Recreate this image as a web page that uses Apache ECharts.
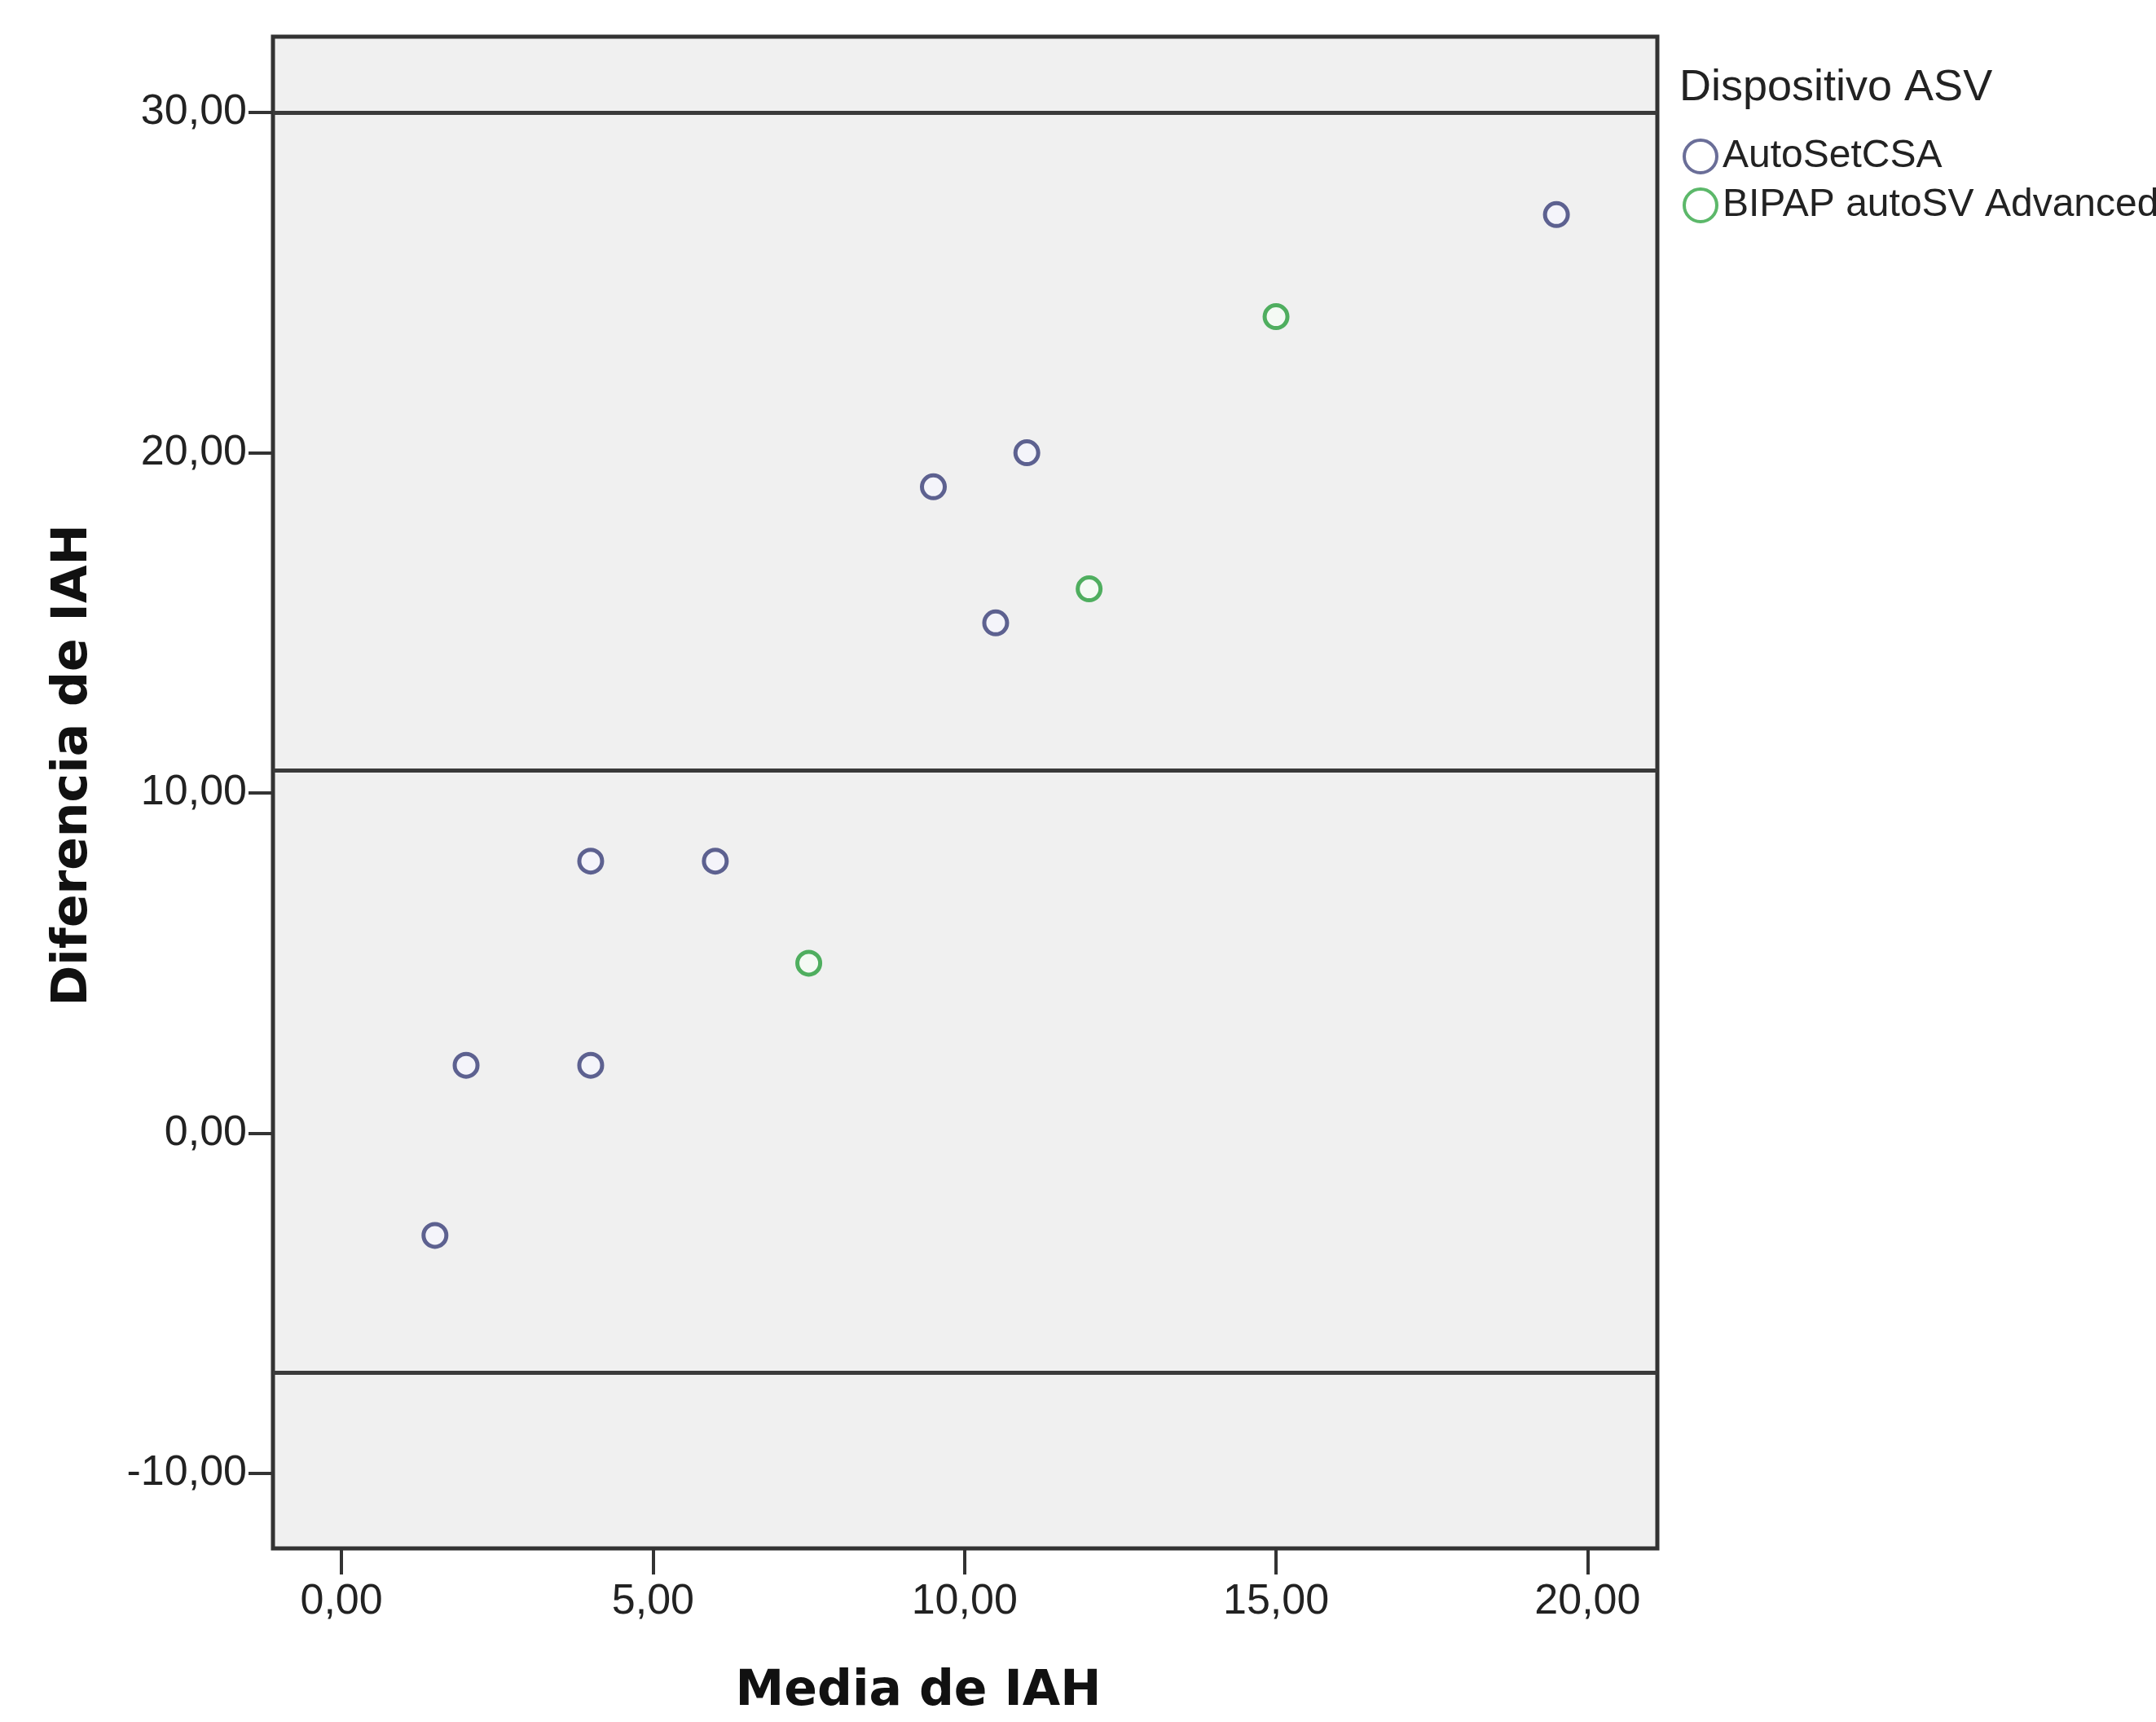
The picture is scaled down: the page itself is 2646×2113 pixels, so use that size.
<!DOCTYPE html>
<html>
<head>
<meta charset="utf-8">
<script src="https://cdn.jsdelivr.net/npm/echarts@6/dist/echarts.min.js"></script>
<style>
  html, body { margin: 0; padding: 0; background: #fff; }
  #chart { width: 2646px; height: 2113px; }
</style>
</head>
<body>
<div id="chart"></div>
<script>
// Bland-Altman: media vs diferencia de IAH
const autoSetMedia = [19.5, 11, 9.5, 10.5, 4, 6, 2, 4, 1.5];
const autoSetDif   = [27, 20, 19, 15, 8, 8, 2, 2, -3];
const bipapMedia   = [15, 12, 7.5];
const bipapDif     = [24, 16, 5];
const refLines     = [30, 10.66, -7.04];   // limites de acuerdo + media
const xTicks       = [0, 5, 10, 15, 20];
const yTicks       = [-10, 0, 10, 20, 30];
const seriesNames  = ['AutoSetCSA', 'BIPAP autoSV Advanced'];

const tickFont = "'Liberation Sans', Arial, sans-serif";
const fmt = v => v.toFixed(2).replace('.', ',');
const pairs = (xs, ys) => xs.map((x, i) => [x, ys[i]]);

const chart = echarts.init(document.getElementById('chart'));
chart.setOption({
    backgroundColor: '#ffffff',
    animation: false,
    title: {
        text: 'Dispositivo ASV',
        left: 2056,
        top: 76,
        textStyle: { fontFamily: tickFont, fontSize: 54, fontWeight: 'normal', color: '#222' }
    },
    legend: {
        orient: 'vertical',
        left: 2060,
        top: 162,
        itemWidth: 40,
        itemHeight: 40,
        itemGap: 10,
        icon: 'circle',
        data: [
            { name: seriesNames[0], itemStyle: { color: '#ffffff', borderColor: '#6a6e98', borderWidth: 4 } },
            { name: seriesNames[1], itemStyle: { color: '#ffffff', borderColor: '#5cb86a', borderWidth: 4 } }
        ],
        textStyle: { fontFamily: tickFont, fontSize: 48, color: '#222', lineHeight: 50, padding: [0, 0, 0, 2] }
    },
    grid: {
        left: 335,
        right: 612,
        top: 45,
        bottom: 213,
        show: true,
        backgroundColor: '#f0f0f0',
        borderColor: '#333',
        borderWidth: 5
    },
    xAxis: {
        type: 'value',
        min: -1.1,
        max: 21.12,
        splitLine: { show: false },
        axisLine: { show: false, onZero: false },
        axisTick: { show: true, length: 32, customValues: xTicks, lineStyle: { color: '#333', width: 4 } },
        axisLabel: {
            customValues: xTicks,
            formatter: fmt,
            margin: 40,
            fontFamily: tickFont,
            fontSize: 52,
            color: '#222'
        }
    },
    yAxis: {
        type: 'value',
        min: -12.2,
        max: 32.23,
        splitLine: { show: false },
        axisLine: { show: false, onZero: false },
        axisTick: { show: true, length: 30, customValues: yTicks, lineStyle: { color: '#333', width: 4 } },
        axisLabel: {
            customValues: yTicks,
            formatter: fmt,
            margin: 32,
            fontFamily: tickFont,
            fontSize: 52,
            color: '#222'
        }
    },
    graphic: [
        {
            type: 'text',
            x: 1127,
            y: 2076,
            style: {
                text: 'Media de IAH',
                fontFamily: "'DejaVu Sans', Verdana, sans-serif",
                fontWeight: 'bold',
                fontSize: 60,
                fill: '#111',
                textAlign: 'center',
                textVerticalAlign: 'middle'
            }
        },
        {
            type: 'text',
            x: 90,
            y: 939,
            rotation: Math.PI / 2,
            style: {
                text: 'Diferencia de IAH',
                fontFamily: "'DejaVu Sans', Verdana, sans-serif",
                fontWeight: 'bold',
                fontSize: 60,
                fill: '#111',
                textAlign: 'center',
                textVerticalAlign: 'middle'
            }
        }
    ],
    series: [
        {
            name: seriesNames[0],
            type: 'scatter',
            symbol: 'circle',
            symbolSize: 28,
            itemStyle: { color: '#f4f4fa', borderColor: '#5d6190', borderWidth: 5, opacity: 1 },
            data: pairs(autoSetMedia, autoSetDif),
            z: 5,
            markLine: {
                silent: true,
                symbol: ['none', 'none'],
                label: { show: false },
                lineStyle: { color: '#3a3a3a', width: 5, type: 'solid' },
                data: refLines.map(v => ({ yAxis: v }))
            }
        },
        {
            name: seriesNames[1],
            type: 'scatter',
            symbol: 'circle',
            symbolSize: 28,
            itemStyle: { color: '#f4faf4', borderColor: '#4fae5f', borderWidth: 5, opacity: 1 },
            data: pairs(bipapMedia, bipapDif),
            z: 5
        }
    ]
});
</script>
</body>
</html>
